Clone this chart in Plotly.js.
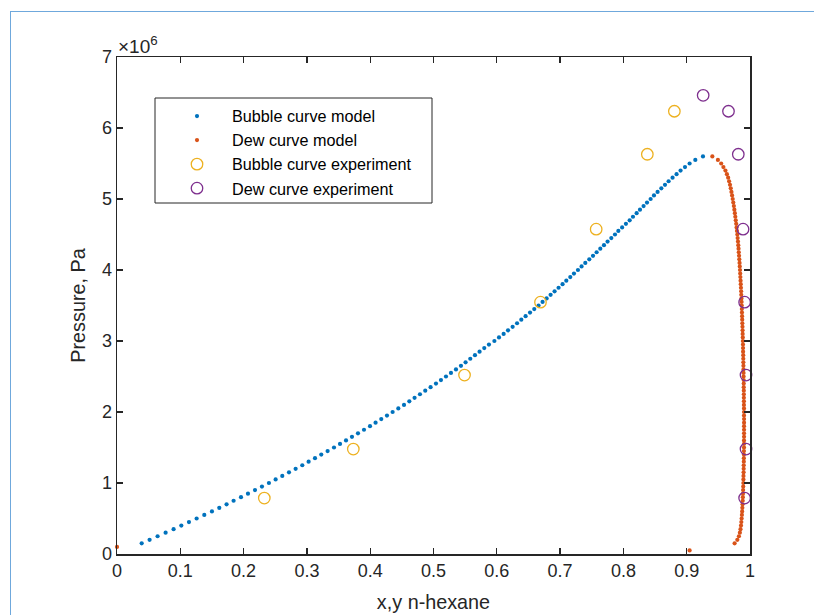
<!DOCTYPE html>
<html>
<head>
<meta charset="utf-8">
<script src="https://cdn.plot.ly/plotly-3.0.1.min.js"></script>
<style>
html,body{margin:0;padding:0;background:#fff;}
#chart{width:814px;height:615px;position:relative;}
#frame{position:absolute;left:10px;top:11px;width:820px;height:620px;border-left:1px solid #6fa8dc;border-top:1px solid #6fa8dc;pointer-events:none;z-index:10;}
</style>
</head>
<body>
<div id="chart"></div>
<div id="frame"></div>
<script>
// Model pressure grid (Pa)
const bubbleP = [0.15e6,0.20e6,0.25e6,0.30e6,0.35e6,0.40e6,0.45e6,0.50e6,0.55e6,0.60e6,0.65e6,0.70e6,0.75e6,0.80e6,0.85e6,0.90e6,0.95e6,1.00e6,1.05e6,1.10e6,1.15e6,1.20e6,1.25e6,1.30e6,1.35e6,1.40e6,1.45e6,1.50e6,1.55e6,1.60e6,1.65e6,1.70e6,1.75e6,1.80e6,1.85e6,1.90e6,1.95e6,2.00e6,2.05e6,2.10e6,2.15e6,2.20e6,2.25e6,2.30e6,2.35e6,2.40e6,2.45e6,2.50e6,2.55e6,2.60e6,2.65e6,2.70e6,2.75e6,2.80e6,2.85e6,2.90e6,2.95e6,3.00e6,3.05e6,3.10e6,3.15e6,3.20e6,3.25e6,3.30e6,3.35e6,3.40e6,3.45e6,3.50e6,3.55e6,3.60e6,3.65e6,3.70e6,3.75e6,3.80e6,3.85e6,3.90e6,3.95e6,4.00e6,4.05e6,4.10e6,4.15e6,4.20e6,4.25e6,4.30e6,4.35e6,4.40e6,4.45e6,4.50e6,4.55e6,4.60e6,4.65e6,4.70e6,4.75e6,4.80e6,4.85e6,4.90e6,4.95e6,5.00e6,5.05e6,5.10e6,5.15e6,5.20e6,5.25e6,5.30e6,5.35e6,5.40e6,5.45e6,5.50e6,5.55e6,5.60e6];
const bubbleX = [0.0390,0.0515,0.0641,0.0768,0.0894,0.1016,0.1137,0.1258,0.1379,0.1500,0.1616,0.1731,0.1842,0.1959,0.2069,0.2180,0.2290,0.2400,0.2506,0.2611,0.2717,0.2822,0.2927,0.3027,0.3128,0.3227,0.3327,0.3428,0.3523,0.3618,0.3712,0.3807,0.3902,0.3997,0.4085,0.4175,0.4265,0.4354,0.4444,0.4534,0.4618,0.4701,0.4786,0.4870,0.4954,0.5039,0.5118,0.5197,0.5276,0.5355,0.5434,0.5507,0.5581,0.5655,0.5728,0.5802,0.5876,0.5962,0.6035,0.6108,0.6177,0.6250,0.6320,0.6387,0.6455,0.6525,0.6592,0.6660,0.6723,0.6787,0.6850,0.6913,0.6976,0.7039,0.7098,0.7161,0.7219,0.7282,0.7339,0.7398,0.7461,0.7520,0.7577,0.7635,0.7693,0.7750,0.7809,0.7867,0.7920,0.7980,0.8040,0.8099,0.8151,0.8209,0.8262,0.8319,0.8373,0.8430,0.8483,0.8540,0.8599,0.8657,0.8714,0.8777,0.8840,0.8903,0.8973,0.9046,0.9136,0.9257];

const dewP = [0.05e6,0.10e6,0.15e6,0.20e6,0.25e6,0.30e6,0.35e6,0.40e6,0.45e6,0.50e6,0.55e6,0.60e6,0.65e6,0.70e6,0.75e6,0.80e6,0.85e6,0.90e6,0.95e6,1.00e6,1.05e6,1.10e6,1.15e6,1.20e6,1.25e6,1.30e6,1.35e6,1.40e6,1.45e6,1.50e6,1.55e6,1.60e6,1.65e6,1.70e6,1.75e6,1.80e6,1.85e6,1.90e6,1.95e6,2.00e6,2.05e6,2.10e6,2.15e6,2.20e6,2.25e6,2.30e6,2.35e6,2.40e6,2.45e6,2.50e6,2.55e6,2.60e6,2.65e6,2.70e6,2.75e6,2.80e6,2.85e6,2.90e6,2.95e6,3.00e6,3.05e6,3.10e6,3.15e6,3.20e6,3.25e6,3.30e6,3.35e6,3.40e6,3.45e6,3.50e6,3.55e6,3.60e6,3.65e6,3.70e6,3.75e6,3.80e6,3.85e6,3.90e6,3.95e6,4.00e6,4.05e6,4.10e6,4.15e6,4.20e6,4.25e6,4.30e6,4.35e6,4.40e6,4.45e6,4.50e6,4.55e6,4.60e6,4.65e6,4.70e6,4.75e6,4.80e6,4.85e6,4.90e6,4.95e6,5.00e6,5.05e6,5.10e6,5.15e6,5.20e6,5.25e6,5.30e6,5.35e6,5.40e6,5.45e6,5.50e6,5.55e6,5.60e6];
const dewX = [0.9046,0.0000,0.9757,0.9800,0.9825,0.9840,0.9850,0.9858,0.9863,0.9868,0.9872,0.9876,0.9879,0.9882,0.9885,0.9887,0.9889,0.9891,0.9893,0.9895,0.9896,0.9897,0.9899,0.9900,0.9901,0.9902,0.9903,0.9904,0.9904,0.9905,0.9905,0.9905,0.9906,0.9906,0.9906,0.9906,0.9906,0.9906,0.9905,0.9905,0.9905,0.9904,0.9904,0.9903,0.9903,0.9902,0.9901,0.9901,0.9900,0.9899,0.9898,0.9897,0.9896,0.9895,0.9894,0.9893,0.9891,0.9890,0.9889,0.9887,0.9886,0.9884,0.9883,0.9881,0.9879,0.9877,0.9875,0.9873,0.9871,0.9869,0.9867,0.9865,0.9862,0.9860,0.9857,0.9854,0.9851,0.9848,0.9845,0.9842,0.9838,0.9835,0.9831,0.9827,0.9823,0.9819,0.9815,0.9810,0.9805,0.9800,0.9794,0.9788,0.9782,0.9775,0.9768,0.9761,0.9753,0.9745,0.9736,0.9727,0.9717,0.9707,0.9696,0.9684,0.9670,0.9655,0.9635,0.9612,0.9580,0.9545,0.9493,0.9405];

// Experimental data
const bubbleExpX = [0.2327,0.3733,0.5490,0.6690,0.7570,0.8378,0.8805];
const bubbleExpP = [0.788e6,1.478e6,2.520e6,3.547e6,4.575e6,5.630e6,6.236e6];
const dewExpX = [0.9260,0.9660,0.9815,0.9890,0.9915,0.9937,0.9937,0.9915];
const dewExpP = [6.460e6,6.236e6,5.630e6,4.575e6,3.547e6,2.520e6,1.478e6,0.788e6];

const xTicks = [0,0.1,0.2,0.3,0.4,0.5,0.6,0.7,0.8,0.9,1];
const xTickText = ['0','0.1','0.2','0.3','0.4','0.5','0.6','0.7','0.8','0.9','1'];
const yTicks = [0,1e6,2e6,3e6,4e6,5e6,6e6,7e6];
const yTickText = ['0','1','2','3','4','5','6','7'];

const seriesNames = ['Bubble curve model','Dew curve model','Bubble curve experiment','Dew curve experiment'];

const font = 'Liberation Sans, Arial, Helvetica, sans-serif';
const axisColor = '#262626';

const traces = [
  {x: bubbleX, y: bubbleP, mode: 'markers', type: 'scatter', name: seriesNames[0],
   marker: {color: '#0072BD', size: 4.2}, cliponaxis: false},
  {x: dewX, y: dewP, mode: 'markers', type: 'scatter', name: seriesNames[1],
   marker: {color: '#D95319', size: 4.2}, cliponaxis: false},
  {x: bubbleExpX, y: bubbleExpP, mode: 'markers', type: 'scatter', name: seriesNames[2],
   marker: {color: '#EDB120', size: 11.5, symbol: 'circle-open', line: {width: 1.3, color: '#EDB120'}}, cliponaxis: false},
  {x: dewExpX, y: dewExpP, mode: 'markers', type: 'scatter', name: seriesNames[3],
   marker: {color: '#7E2F8E', size: 11.5, symbol: 'circle-open', line: {width: 1.3, color: '#7E2F8E'}}, cliponaxis: false}
];

const L = 117, R = 750, T = 57, B = 554;
const px = v => (v - L) / (R - L);
const py = v => (B - v) / (B - T);

const layout = {
  width: 814, height: 615,
  margin: {l: L, r: 814 - R, t: T, b: 615 - B, pad: 0},
  paper_bgcolor: '#ffffff', plot_bgcolor: '#ffffff',
  font: {family: font, color: axisColor, size: 18},
  showlegend: true,
  legend: {
    x: px(162), y: py(99), xanchor: 'left', yanchor: 'top',
    bgcolor: 'rgba(0,0,0,0)', borderwidth: 0,
    font: {family: font, size: 16.2, color: '#000'},
    itemwidth: 60
  },
  xaxis: {
    range: [0, 1], tickvals: xTicks, ticktext: xTickText,
    ticks: 'inside', ticklen: 6, tickwidth: 1.3, tickcolor: axisColor,
    showline: true, linecolor: axisColor, linewidth: 1.5, mirror: 'ticks',
    showgrid: false, zeroline: false,
    tickfont: {family: font, size: 18, color: axisColor},
    title: {text: 'x,y n-hexane', font: {family: font, size: 19.8, color: axisColor}, standoff: 15}
  },
  yaxis: {
    range: [0, 7e6], tickvals: yTicks, ticktext: yTickText,
    ticks: 'inside', ticklen: 6, tickwidth: 1.3, tickcolor: axisColor,
    showline: true, linecolor: axisColor, linewidth: 1.5, mirror: 'ticks',
    showgrid: false, zeroline: false,
    tickfont: {family: font, size: 18, color: axisColor},
    title: {text: 'Pressure, Pa', font: {family: font, size: 19.8, color: axisColor}, standoff: 11}
  },
  shapes: [
    {type: 'rect', xref: 'paper', yref: 'paper', x0: px(155), x1: px(432), y0: py(203), y1: py(98),
     line: {color: '#262626', width: 1}, fillcolor: 'rgba(255,255,255,0)', layer: 'below'}
  ],
  annotations: [
    {xref: 'paper', yref: 'paper', x: px(116), y: py(59), xanchor: 'left', yanchor: 'bottom',
     text: '×10<sup>6</sup>', showarrow: false, font: {family: font, size: 19, color: axisColor}}
  ]
};

Plotly.newPlot('chart', traces, layout, {displayModeBar: false, staticPlot: true});
</script>
</body>
</html>
